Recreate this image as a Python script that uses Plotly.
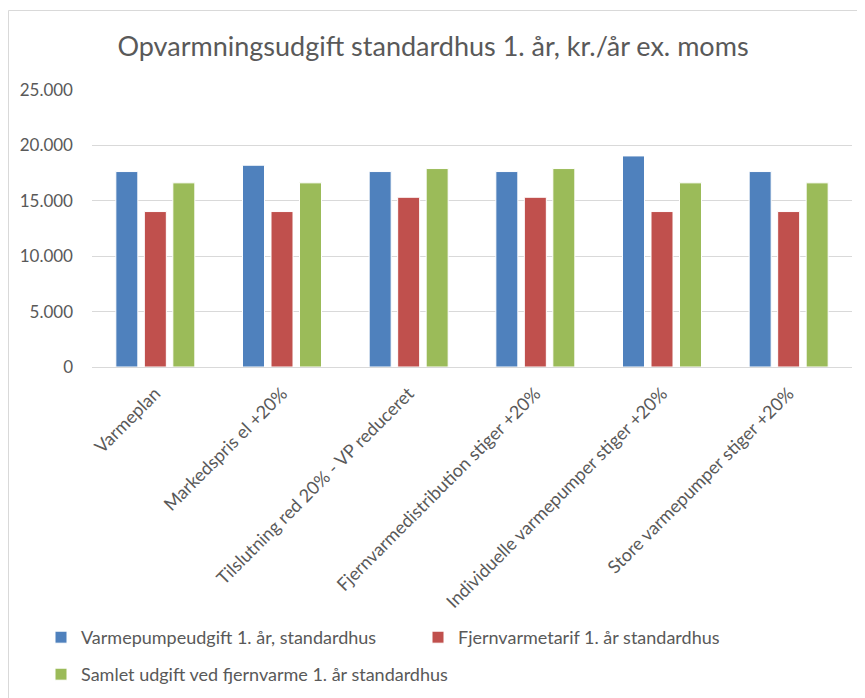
import plotly.graph_objects as go

categories = ["Varmeplan", "Markedspris el +20%", "Tilslutning red 20% - VP reduceret",
              "Fjernvarmedistribution stiger +20%", "Individuelle varmepumper stiger +20%",
              "Store varmepumper stiger +20%"]
series_names = ["Varmepumpeudgift 1. år, standardhus",
                "Fjernvarmetarif 1. år standardhus",
                "Samlet udgift ved fjernvarme 1. år standardhus"]
varmepumpe = [17640, 18210, 17640, 17640, 19050, 17640]
fjernvarmetarif = [14030, 14030, 15320, 15320, 14030, 14030]
samlet = [16620, 16620, 17910, 17910, 16620, 16620]
colors = ["#4f81bd", "#c0504d", "#9bbb59"]
tick_vals = [0, 5000, 10000, 15000, 20000, 25000]
tick_text = ["0", "5.000", "10.000", "15.000", "20.000", "25.000"]

FONT = "Lato"
TXT = "#595959"

# page offset from browser body margin
OX, OY = 8, 8
W, H = 865 - OX, 698 - OY
# plot area in page pixels: x 92..852, y 90..367
L, R, T, B = 92 - OX, 865 - 852, 90 - OY, 698 - 367
pw, ph = W - L - R, H - T - B

def px_x(p):
    return (p - OX - L) / pw

def px_y(p):
    return (H - B - (p - OY)) / ph

legend_ids = ["legend", "legend", "legend2"]

fig = go.Figure()
for name, vals, c, lg in zip(series_names, [varmepumpe, fjernvarmetarif, samlet], colors, legend_ids):
    fig.add_trace(go.Bar(x=categories, y=vals, name=name, marker_color=c,
                         marker_line_color="white", marker_line_width=1, legend=lg))

legfont = dict(size=18, color=TXT, family=FONT)

fig.update_layout(
    width=W, height=H,
    margin=dict(l=L, r=R, t=T, b=B, autoexpand=False),
    paper_bgcolor="white", plot_bgcolor="white",
    font=dict(family=FONT, color=TXT),
    title=dict(text="Opvarmningsudgift standardhus 1. år, kr./år ex. moms",
               x=(433 - OX) / W, xref="container", xanchor="center",
               y=1 - (47 - OY) / H, yref="container", yanchor="middle",
               font=dict(size=27, color=TXT, family=FONT)),
    barmode="group", bargap=0.325, bargroupgap=0.228,
    showlegend=True,
    legend=dict(orientation="h", x=px_x(41), xanchor="left", y=px_y(619), yanchor="top",
                entrywidth=332, entrywidthmode="pixels", font=legfont, itemwidth=30,
                bgcolor="rgba(0,0,0,0)"),
    legend2=dict(orientation="h", x=px_x(41), xanchor="left", y=px_y(656), yanchor="top",
                 font=legfont, itemwidth=30, bgcolor="rgba(0,0,0,0)"),
    xaxis=dict(tickangle=-45, tickfont=dict(size=18, color=TXT, family=FONT),
               showline=True, linecolor="#d9d9d9", linewidth=1, ticks="",
               showgrid=False, ticklabelstandoff=8, automargin=False),
    yaxis=dict(range=[0, 25000], tickvals=tick_vals, ticktext=tick_text,
               tickfont=dict(size=17, color=TXT, family=FONT),
               showgrid=True, gridcolor="#d9d9d9", gridwidth=1,
               zeroline=False, showline=False, ticks="", ticklabelstandoff=18,
               automargin=False),
    shapes=[dict(type="rect", xref="paper", yref="paper",
                 x0=px_x(8.5), x1=px_x(900), y0=px_y(760), y1=px_y(10.5),
                 line=dict(color="#d9d9d9", width=1), fillcolor="rgba(0,0,0,0)")],
)

fig.write_html("out.html")
